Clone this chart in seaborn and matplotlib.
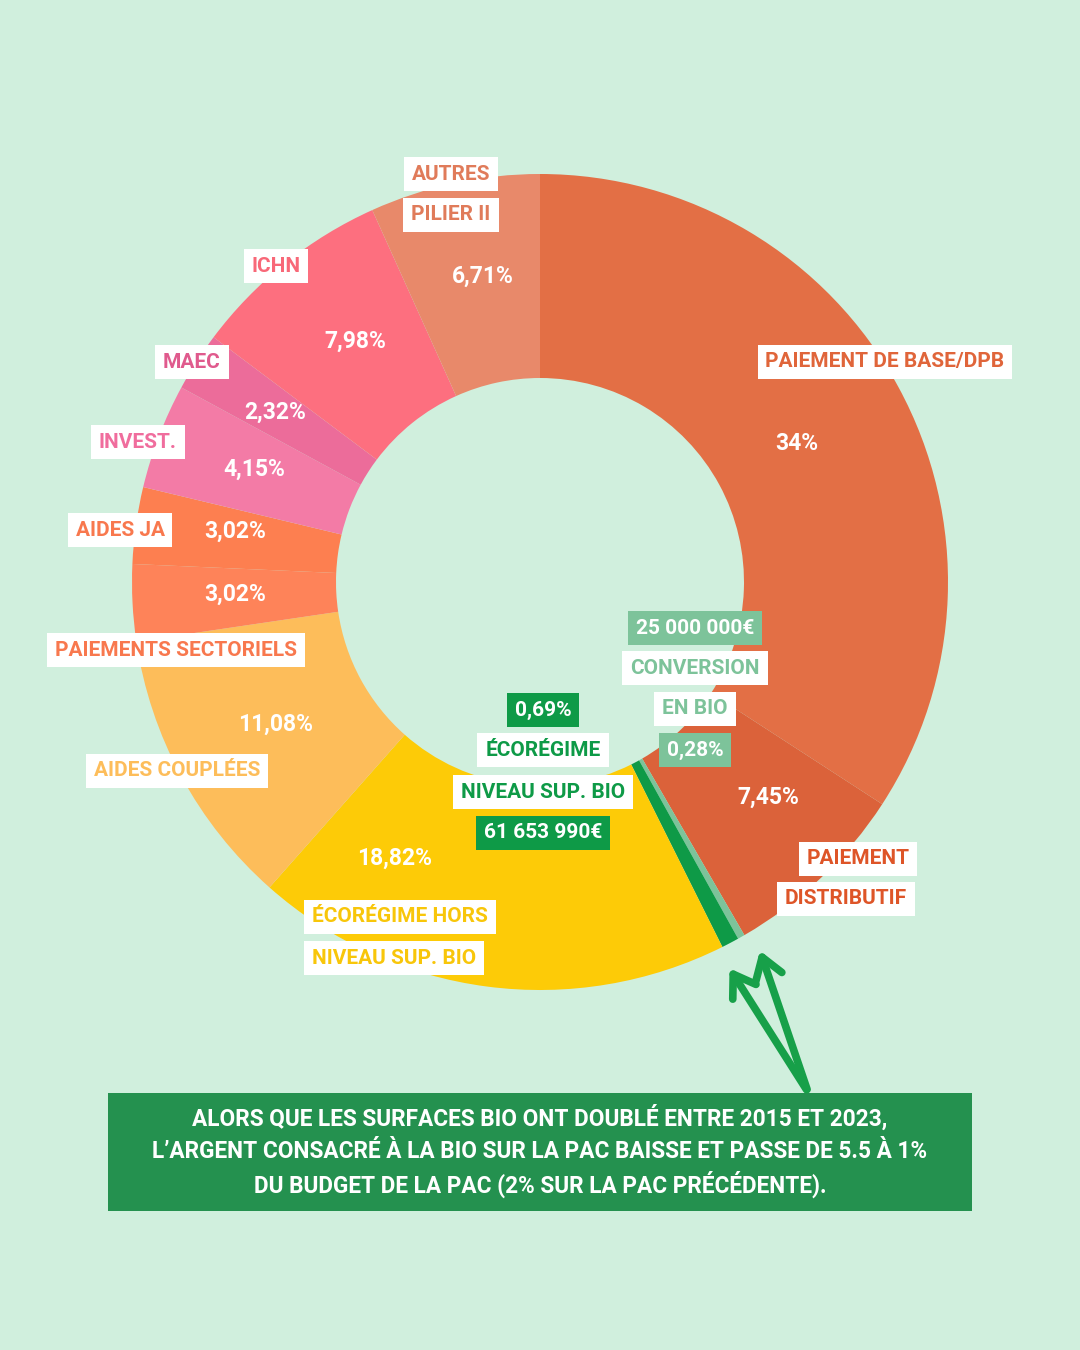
import matplotlib
matplotlib.use('Agg')
import matplotlib.pyplot as plt
from matplotlib import font_manager
from matplotlib.patches import Rectangle
import seaborn as sns

# PAC budget shares, clockwise from 12 o'clock
postes = ['PAIEMENT DE BASE/DPB', 'PAIEMENT DISTRIBUTIF', 'CONVERSION EN BIO',
          'ÉCORÉGIME NIVEAU SUP. BIO', 'ÉCORÉGIME HORS NIVEAU SUP. BIO',
          'AIDES COUPLÉES', 'PAIEMENTS SECTORIELS', 'AIDES JA', 'INVEST.',
          'MAEC', 'ICHN', 'AUTRES PILIER II']
parts = [34, 7.45, 0.28, 0.69, 18.82, 11.08, 3.02, 3.02, 4.15, 2.32, 7.98, 6.71]
pct_txt = ['34%', '7,45%', '0,28%', '0,69%', '18,82%', '11,08%',
           '3,02%', '3,02%', '4,15%', '2,32%', '7,98%', '6,71%']
couleurs = ['#E36F45', '#DB623A', '#7DC39A', '#0E9A47', '#FDCB07', '#FDBD5A',
            '#FE8359', '#FD7F50', '#F37BA6', '#EC6C9A', '#FD6F7F', '#E8896A']
montant_bio = '61 653 990€'
montant_conv = '25 000 000€'
note = ["ALORS QUE LES SURFACES BIO ONT DOUBLÉ ENTRE 2015 ET 2023,",
        "L’ARGENT CONSACRÉ À LA BIO SUR LA PAC BAISSE ET PASSE DE 5.5 À 1%",
        "DU BUDGET DE LA PAC (2% SUR LA PAC PRÉCÉDENTE)."]

BG = '#D0EFDD'
sns.set_theme(style='white')
bold_fams = {f.name for f in font_manager.fontManager.ttflist if f.weight in (700, 'bold')}
fam = next((f for f in ['Liberation Sans Narrow', 'Roboto', 'Lato', 'Open Sans', 'Noto Sans']
            if f in bold_fams), 'DejaVu Sans')
plt.rcParams['font.family'] = [fam, 'DejaVu Sans']

fig = plt.figure(figsize=(10.8, 13.5), dpi=100, facecolor=BG)
ax = fig.add_axes([0, 0, 1, 1])
ax.set_facecolor(BG)

H = 1350
def P(x, y):
    return (x, H - y)

ax.pie(parts, colors=couleurs, startangle=90, counterclock=False,
       center=P(540, 582), radius=408,
       wedgeprops=dict(width=204, linewidth=0))
ax.set_xlim(0, 1080)
ax.set_ylim(0, H)
ax.set_aspect('equal')
ax.axis('off')

# percentages inside the ring
pct_pos = {0: (797, 444), 1: (768, 797), 4: (395, 858), 5: (276, 724),
           6: (235, 594), 7: (235, 531), 8: (254, 469), 9: (275, 412),
           10: (355, 341), 11: (483, 276)}
for i, (x, y) in pct_pos.items():
    ax.text(*P(x, y), pct_txt[i], color='white', fontsize=16.5, fontweight='bold',
            ha='center', va='center')

def box(x, y, s, fg, bg='white', ha='center'):
    ax.text(*P(x, y), s, color=fg, fontsize=15, fontweight='bold', ha=ha, va='center',
            bbox=dict(boxstyle='square,pad=0.38', fc=bg, ec='none'))

txtc = ['#E0653A', '#DE5528', '#7DC39A', '#0E9A47', '#F8C60A', '#FDBD5A',
        '#F8784E', '#F8784E', '#F06D9D', '#E05A8D', '#F86878', '#E07B5A']

box(885, 362, 'PAIEMENT DE BASE/DPB', txtc[0])
box(858, 859, 'PAIEMENT', txtc[1])
box(846, 899, 'DISTRIBUTIF', txtc[1])
box(695, 628, montant_conv, 'white', couleurs[2])
box(695, 668, 'CONVERSION', txtc[2])
box(695, 709, 'EN BIO', txtc[2])
box(695, 750, pct_txt[2], 'white', couleurs[2])
box(543, 710, pct_txt[3], 'white', couleurs[3])
box(543, 750, 'ÉCORÉGIME', txtc[3])
box(543, 792, 'NIVEAU SUP. BIO', txtc[3])
box(543, 833, montant_bio, 'white', couleurs[3])
box(400, 917, 'ÉCORÉGIME HORS', txtc[4])
box(394, 958, 'NIVEAU SUP. BIO', txtc[4])
box(177, 771, 'AIDES COUPLÉES', txtc[5])
box(176, 650, 'PAIEMENTS SECTORIELS', txtc[6])
box(120, 530, 'AIDES JA', txtc[7])
box(138, 442, 'INVEST.', txtc[8])
box(192, 362, 'MAEC', txtc[9])
box(276, 266, 'ICHN', txtc[10])
box(451, 174, 'AUTRES', txtc[11])
box(451, 215, 'PILIER II', txtc[11])

# arrows pointing at the bio slices
for tip in [(728, 966), (759, 948)]:
    ax.annotate('', xy=P(*tip), xytext=P(808, 1092),
                arrowprops=dict(arrowstyle='->,head_length=0.5,head_width=0.33',
                                mutation_scale=30, lw=5.5, color='#17A049',
                                capstyle='round', joinstyle='round'))

# bottom note
ax.add_patch(Rectangle(P(108, 1211), 864, 118, fc='#24914F', ec='none'))
for k, line in enumerate(note):
    ax.text(*P(540, 1118 + 33 * k), line, color='white', fontsize=16.3,
            fontweight='bold', ha='center', va='center')

fig.savefig('out.png', dpi=100, facecolor=BG)
